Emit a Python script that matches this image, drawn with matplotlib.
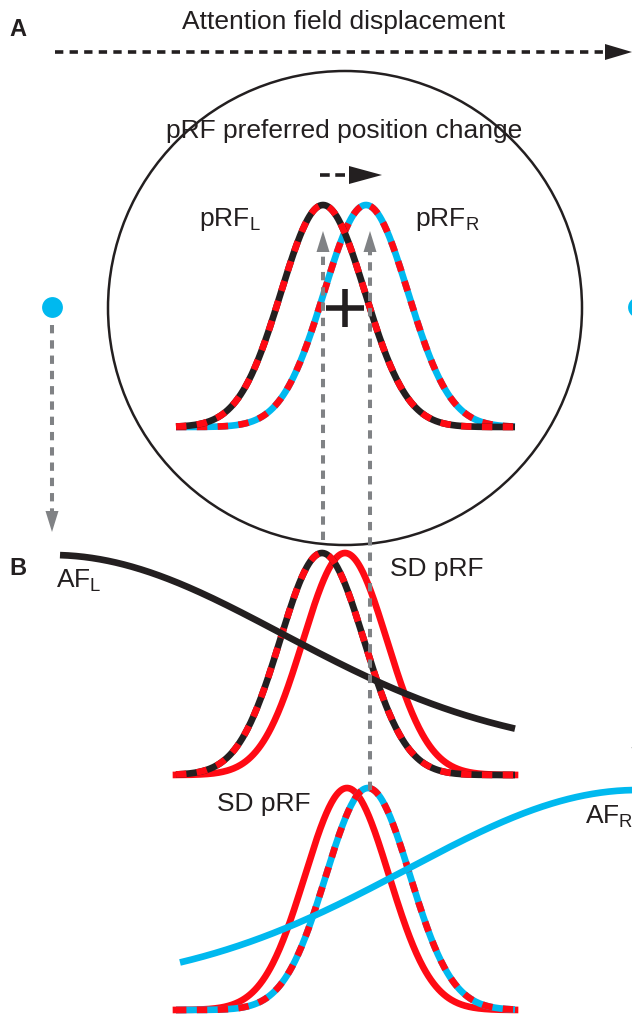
import numpy as np
import matplotlib.pyplot as plt
import matplotlib
from matplotlib.patches import Circle, Polygon

matplotlib.rcParams['font.family'] = ['Liberation Sans', 'DejaVu Sans']
matplotlib.rcParams['mathtext.fontset'] = 'custom'
matplotlib.rcParams['mathtext.rm'] = 'Liberation Sans'
matplotlib.rcParams['lines.scale_dashes'] = False

black = '#231f20'
red = '#ff0a14'
cyan = '#00b9ef'
grey = '#808285'

# drawing units = pixels of the 632 x 1016 canvas, y grows downwards
# pRF tuning curves (three rows: panel A, panel B top, panel B bottom)
prf_x = [176, 515]
prf_sigma = 42
prf_peak_y = [205, 553, 788]
prf_base_y = [427, 775, 1010]
prfA_centres = [366, 323]      # pRF_R, pRF_L
prfB_centres = [345, 322]      # SD pRF, pRF_L
prfC_centres = [347, 368]      # SD pRF, pRF_R

# attention fields
af_centres = [52, 638]
af_peak_y = [555, 790]
af_depth = 200
af_sigma = 230
af_x = [[60, 515], [180, 645]]

# stimulus circle and fixation
circle_centre = (345, 308)
circle_radius = 237
dot_y = 307

LW = 4.8


def gauss_curve(c, peak, base, x0, x1):
    x = np.linspace(x0, x1, 400)
    y = base - (base - peak) * np.exp(-(x - c) ** 2 / (2 * prf_sigma ** 2))
    return x, y


def af_curve(c, peak, x0, x1):
    x = np.linspace(x0, x1, 400)
    y = peak + af_depth * (1 - np.exp(-(x - c) ** 2 / (2 * af_sigma ** 2)))
    return x, y


def striped(ax, x, y, col):
    ax.plot(x, y, color=col, lw=LW, solid_capstyle='butt')
    ax.plot(x, y, color=red, lw=LW, ls=(0, (7.5, 7.5)), dash_capstyle='butt')


def arrow(ax, tail, tip, col, lw, dash, head_len, head_w):
    tail = np.array(tail, float)
    tip = np.array(tip, float)
    d = tip - tail
    u = d / np.hypot(*d)
    n = np.array([-u[1], u[0]])
    base = tip - u * head_len
    ax.plot([tail[0], base[0]], [tail[1], base[1]], color=col, lw=lw,
            ls=(0, dash), dash_capstyle='butt')
    ax.add_patch(Polygon([tip, base + n * head_w / 2, base - n * head_w / 2],
                         closed=True, color=col, lw=0))


def main():
    fig = plt.figure(figsize=(6.32, 10.16), dpi=100)
    ax = fig.add_axes([0, 0, 1, 1])
    ax.set_xlim(0, 632)
    ax.set_ylim(1016, 0)
    ax.axis('off')

    # panel A
    ax.add_patch(Circle(circle_centre, circle_radius, fill=False, ec=black, lw=1.8))
    ax.plot(circle_centre[0], circle_centre[1], marker='+', ms=28, mew=4, color=black)
    x, y = gauss_curve(prfA_centres[0], prf_peak_y[0], prf_base_y[0], *prf_x)
    striped(ax, x, y, cyan)
    x, y = gauss_curve(prfA_centres[1], prf_peak_y[0], prf_base_y[0], *prf_x)
    striped(ax, x, y, black)
    for cx in af_centres:
        ax.plot(cx, dot_y, 'o', ms=15, color=cyan, mew=0)

    # panel B top
    x, y = gauss_curve(prfB_centres[0], prf_peak_y[1], prf_base_y[1], *prf_x)
    ax.plot(x, y, color=red, lw=LW)
    x, y = gauss_curve(prfB_centres[1], prf_peak_y[1], prf_base_y[1], *prf_x)
    striped(ax, x, y, black)
    x, y = af_curve(af_centres[0], af_peak_y[0], *af_x[0])
    ax.plot(x, y, color=black, lw=LW, solid_capstyle='butt')

    # panel B bottom
    x, y = gauss_curve(prfC_centres[0], prf_peak_y[2], prf_base_y[2], *prf_x)
    ax.plot(x, y, color=red, lw=LW)
    x, y = gauss_curve(prfC_centres[1], prf_peak_y[2], prf_base_y[2], *prf_x)
    striped(ax, x, y, cyan)
    x, y = af_curve(af_centres[1], af_peak_y[1], *af_x[1])
    ax.plot(x, y, color=cyan, lw=LW, solid_capstyle='butt')

    # arrows
    arrow(ax, (55, 52), (632, 52), black, 2.6, (6, 4.5), 27, 16)
    arrow(ax, (320, 175), (382, 175), black, 2.6, (7, 4), 33, 18)
    arrow(ax, (prfA_centres[1], 540), (prfA_centres[1], 231), grey, 2.9, (6, 5), 21, 13)
    arrow(ax, (prfA_centres[0] + 4, 790), (prfA_centres[0] + 4, 231), grey, 2.9, (6, 5), 21, 13)
    arrow(ax, (af_centres[0], 325), (af_centres[0], 532), grey, 2.9, (6, 5), 21, 13)
    arrow(ax, (af_centres[1], 325), (af_centres[1], 768), grey, 2.9, (6, 5), 21, 13)

    # text
    fs = 19
    ax.text(9, 36, 'A', fontsize=17, fontweight='bold', color=black)
    ax.text(9, 575, 'B', fontsize=17, fontweight='bold', color=black)
    ax.text(344, 29, 'Attention field displacement', fontsize=fs, ha='center', color=black)
    ax.text(344, 138, 'pRF preferred position change', fontsize=fs, ha='center', color=black)
    ax.text(199, 226, r'pRF$_{\mathrm{L}}$', fontsize=fs, color=black)
    ax.text(415, 226, r'pRF$_{\mathrm{R}}$', fontsize=fs, color=black)
    ax.text(390, 576, 'SD pRF', fontsize=fs, color=black)
    ax.text(217, 811, 'SD pRF', fontsize=fs, color=black)
    ax.text(56, 587, r'AF$_{\mathrm{L}}$', fontsize=fs, color=black)
    ax.text(585, 824, r'AF$_{\mathrm{R}}$', fontsize=fs, color=black)

    plt.savefig('out.png', dpi=100)


if __name__ == '__main__':
    main()
